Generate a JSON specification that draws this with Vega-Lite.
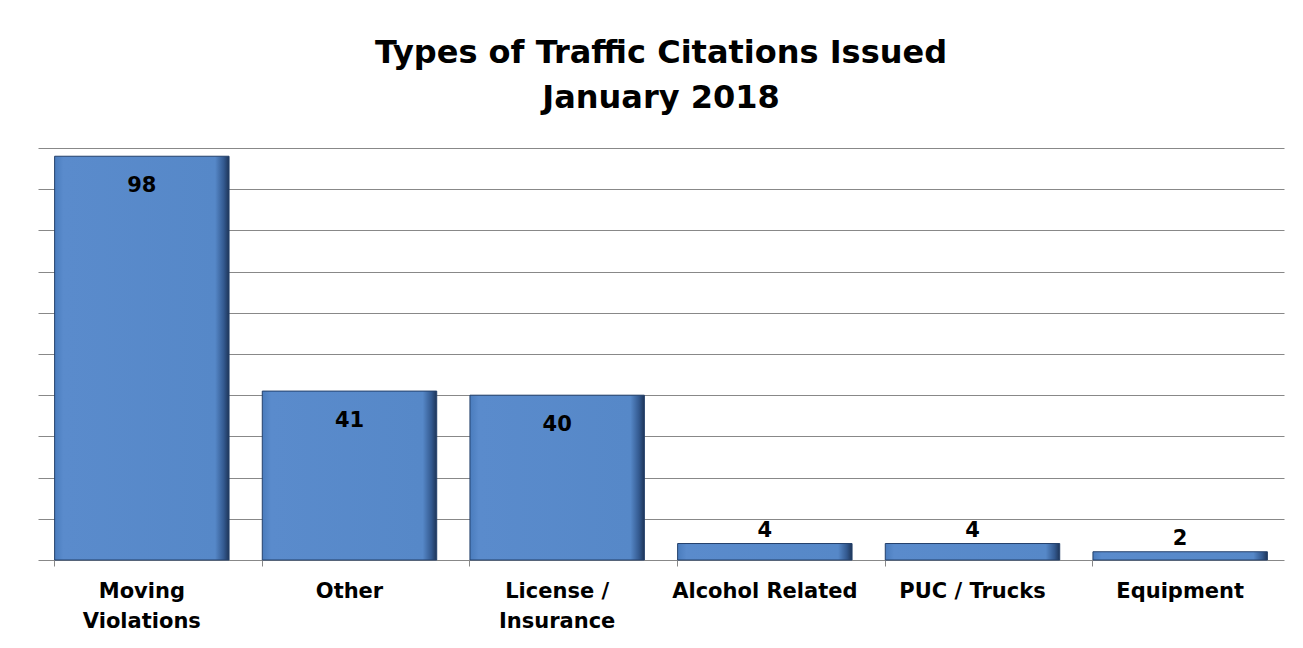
{
  "$schema": "https://vega.github.io/schema/vega-lite/v6.json",
  "autosize": "none",
  "padding": {"left": 38, "top": 148, "right": 19, "bottom": 88},
  "width": 1246,
  "height": 412,
  "background": "white",
  "config": {"view": {"stroke": null}, "font": "DejaVu Sans"},
  "title": {
    "text": ["Types of Traffic Citations Issued", "January 2018"],
    "font": "DejaVu Sans",
    "fontSize": 32,
    "fontWeight": "bold",
    "color": "black",
    "lineHeight": 45,
    "anchor": "middle",
    "offset": 33
  },
  "data": {
    "values": [
      {"type": "Moving Violations", "count": 98},
      {"type": "Other", "count": 41},
      {"type": "License / Insurance", "count": 40},
      {"type": "Alcohol Related", "count": 4},
      {"type": "PUC / Trucks", "count": 4},
      {"type": "Equipment", "count": 2}
    ]
  },
  "encoding": {
    "x": {
      "field": "type",
      "type": "nominal",
      "sort": null,
      "scale": {"paddingInner": 0.16, "paddingOuter": 0.08},
      "axis": {
        "title": null,
        "labelAngle": 0,
        "labelFont": "DejaVu Sans",
        "labelFontSize": 21,
        "labelFontWeight": "bold",
        "labelColor": "black",
        "labelLineHeight": 30,
        "labelPadding": 14,
        "labelLimit": 400,
        "labelExpr": "datum.label == 'Moving Violations' ? ['Moving', 'Violations'] : datum.label == 'License / Insurance' ? ['License /', 'Insurance'] : datum.label",
        "domainColor": "#888888",
        "tickColor": "#888888",
        "tickSize": 6,
        "bandPosition": 0,
        "labelBound": false,
        "labelOverlap": false
      }
    },
    "y": {
      "field": "count",
      "type": "quantitative",
      "scale": {"domain": [0, 100]},
      "axis": {
        "title": null,
        "labels": false,
        "ticks": false,
        "domain": false,
        "values": [10, 20, 30, 40, 50, 60, 70, 80, 90, 100],
        "gridColor": "#888888",
        "gridWidth": 1
      }
    }
  },
  "layer": [
    {
      "mark": {
        "type": "bar",
        "stroke": "#24406b",
        "strokeWidth": 1,
        "color": {
          "gradient": "linear",
          "x1": 0, "x2": 1, "y1": 0, "y2": 0,
          "stops": [
            {"offset": 0, "color": "#4a7cbd"},
            {"offset": 0.05, "color": "#5a8bcc"},
            {"offset": 0.92, "color": "#5688c8"},
            {"offset": 0.97, "color": "#33598f"},
            {"offset": 1, "color": "#1e3558"}
          ]
        }
      }
    },
    {
      "transform": [{"filter": "datum.count > 10"}],
      "mark": {"type": "text", "fontSize": 21, "fontWeight": "bold", "color": "black", "baseline": "middle", "dy": 30, "font": "DejaVu Sans"},
      "encoding": {"text": {"field": "count", "type": "quantitative"}}
    },
    {
      "transform": [{"filter": "datum.count <= 10"}],
      "mark": {"type": "text", "fontSize": 21, "fontWeight": "bold", "color": "black", "baseline": "middle", "dy": -13, "font": "DejaVu Sans"},
      "encoding": {"text": {"field": "count", "type": "quantitative"}}
    }
  ]
}
